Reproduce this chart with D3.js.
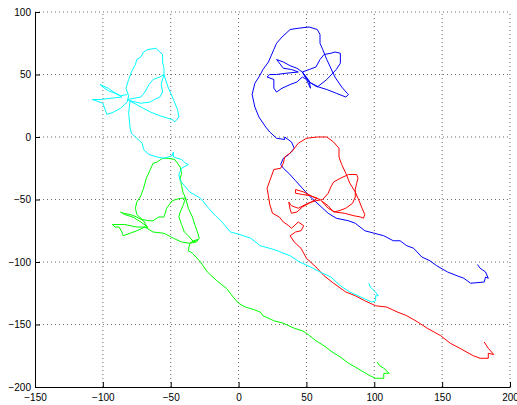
<!DOCTYPE html>
<html>
<head>
<meta charset="utf-8">
<script src="https://cdn.jsdelivr.net/npm/d3@7"></script>
<style>
body{margin:0;background:#fff;}
svg text{font-family:"Liberation Sans",Arial,Helvetica,sans-serif;font-size:10px;fill:#000;}
</style>
</head>
<body>
<script>
const width = 517;
const height = 405;
const margin = {"left":35,"bottom":18,"right":7,"top":12}

const xTicks = [-150,-100,-50,0,50,100,150,200];
const yTicks = [-200,-150,-100,-50,0,50,100];

// tracks, [x, y] in axis units
const blueTrack = [[47,52],[43,55],[38,57],[33,60],[28,62],[33,55],[39,54],[44,52],[35,51],[28,50],[23,50],[21,48],[26,46],[26,39],[28,36],[32,39],[38,42],[43,44],[47,48],[50,46],[53,39],[52,45],[47,52],
[52,54],[57,56],[60,62],[63,66],[68,67],[71,68],[75,67],[75,59],[72,54],[65,46],[58,40],[52,44],[49,48],[47,52],
[52,44],[59,40],[65,38],[72,35],[79,32],[81,34],[80,35],[76,40],[71,48],[65,62],[62,70],[60,75],[60,82],[58,86],[52,88],[44,87],[38,86],[32,80],[28,75],[26,70],[22,60],[18,54],[15,48],[12,43],[10,34],[12,24],[15,16],[20,8],[23,4],[28,-1],[34,-2],[34,0],[39,-4],[41,-9],[37,-14],[33,-17],[31,-22],[33,-25],[37,-29],[42,-35],[47,-41],[52,-47],[57,-52],[62,-57],[66,-61],[72,-65],[81,-67],[86,-69],[93,-75],[100,-77],[107,-79],[114,-83],[119,-83],[124,-87],[129,-89],[135,-96],[141,-99],[146,-103],[154,-108],[161,-111],[166,-113],[171,-117],[181,-116],[182,-112],[184,-113],[182,-108],[178,-105],[176,-102]];

const redTrack = [[60,-50],[55,-48],[48,-44],[42,-42],[42,-45],[47,-46],[53,-47],[58,-49],
[52,-53],[47,-56],[43,-60],[39,-61],[38,-58],[37,-52],[39,-55],[44,-57],[51,-53],[57,-51],[62,-50],
[66,-45],[68,-40],[70,-36],[75,-33],[81,-30],[87,-30],[88,-33],[87,-37],[86,-42],[86,-48],[84,-53],[79,-57],[74,-59],[70,-60],[66,-55],[61,-51],
[66,-57],[71,-60],[78,-61],[85,-63],[90,-64],[92,-65],[93,-62],
[91,-57],[88,-49],[86,-44],[82,-37],[79,-29],[76,-22],[74,-16],[74,-9],[70,-4],[65,0],[58,0],[50,-1],[44,-5],[39,-12],[34,-16],[33,-21],[31,-25],[26,-26],[23,-35],[21,-41],[22,-47],[23,-54],[25,-61],[30,-64],[33,-68],[37,-71],[39,-73],[44,-68],[48,-71],[46,-75],[42,-76],[38,-79],[41,-84],[46,-89],[50,-97],[57,-104],[63,-111],[70,-117],[79,-124],[86,-127],[93,-131],[101,-135],[109,-136],[117,-140],[124,-143],[132,-148],[139,-153],[149,-159],[156,-165],[163,-169],[173,-175],[178,-177],[184,-177],[184,-173],[188,-174],[184,-169],[181,-164]];

const greenTrack = [[-67,-73],[-70,-67],[-75,-64],[-80,-62],[-85,-61],[-87,-60],[-84,-62],[-78,-64],[-72,-68],[-67,-72],[-75,-72],[-84,-70],[-93,-70],[-91,-72],[-88,-72],[-86,-76],[-85,-79],[-80,-77],[-75,-75],[-69,-72],[-63,-76],[-55,-77],[-48,-81],[-42,-84],[-36,-85],[-31,-84],[-29,-81],
[-30,-77],[-32,-71],[-34,-64],[-37,-57],[-39,-49],[-41,-44],[-42,-39],[-43,-33],[-42,-29],[-43,-24],[-47,-18],[-52,-17],[-56,-17],[-60,-20],[-63,-21],[-65,-26],[-68,-33],[-70,-41],[-72,-47],[-75,-52],[-76,-57],[-75,-62],[-71,-66],[-66,-67],[-63,-67],[-59,-64],[-55,-64],[-53,-57],[-49,-51],[-43,-49],[-39,-49],[-41,-55],[-43,-60],[-44,-64],[-42,-70],[-40,-76],[-37,-79],[-33,-84],[-30,-82],[-33,-83],[-36,-85],
[-37,-91],[-34,-93],[-28,-100],[-23,-108],[-16,-115],[-9,-121],[-4,-128],[0,-133],[5,-136],[11,-138],[16,-140],[18,-143],[26,-147],[33,-149],[41,-153],[47,-155],[50,-157],[57,-163],[63,-167],[69,-172],[75,-176],[81,-181],[86,-184],[92,-188],[97,-191],[101,-193],[107,-193],[107,-189],[111,-189],[107,-185],[104,-183],[102,-180]];

const cyanTrack = [[-82,34],[-87,33],[-92,36],[-96,39],[-102,42],[-100,40],[-96,37],[-91,35],[-86,32],
[-94,31],[-102,30],[-108,30],[-105,29],[-100,27],[-97,18],[-92,20],[-87,23],[-82,28],
[-81,33],[-83,39],[-81,46],[-79,52],[-76,58],[-75,62],[-72,64],[-70,68],[-67,70],[-61,71],[-58,68],[-56,66],[-56,60],[-55,55],[-55,50],
[-52,40],[-48,30],[-45,22],[-44,16],[-47,12],[-49,14],
[-58,17],[-65,20],[-72,24],[-77,27],[-82,30],
[-72,32],[-69,36],[-66,42],[-63,46],[-58,48],[-55,50],
[-57,42],[-56,36],[-58,32],[-62,30],[-65,28],[-72,27],[-80,29],
[-81,19],[-80,8],[-79,3],[-75,-1],[-71,-5],[-70,-10],[-66,-14],[-60,-16],[-55,-17],[-49,-15],[-48,-12],[-48,-16],[-42,-18],[-39,-21],[-37,-22],[-42,-25],[-44,-30],[-43,-35],[-39,-40],[-36,-44],[-28,-49],[-22,-57],[-17,-63],[-13,-67],[-6,-76],[1,-78],[9,-81],[16,-87],[26,-90],[38,-95],[45,-100],[53,-104],[60,-108],[68,-112],[75,-119],[82,-124],[90,-128],[98,-132],[101,-131],[101,-127],[103,-127],[100,-123],[97,-120],[96,-117]];

const tracks = [
  {color:"#0000ff", points:blueTrack},
  {color:"#ff0000", points:redTrack},
  {color:"#00ff00", points:greenTrack},
  {color:"#00ffff", points:cyanTrack}
];

const svg = d3.select("body").append("svg").attr("width",width).attr("height",height);

const xScale = d3.scaleLinear().domain([-150,200]).range([margin.left,width-margin.right]);
const yScale = d3.scaleLinear().domain([-200,100]).range([height-margin.bottom,margin.top]);

// dotted grid
const grid = svg.append("g").attr("stroke","#444").attr("stroke-width",0.8).attr("stroke-dasharray","1,3");
grid.selectAll(".gx").data(xTicks.slice(1)).enter().append("line")
  .attr("x1",d=>xScale(d)).attr("x2",d=>xScale(d))
  .attr("y1",yScale(-200)).attr("y2",yScale(100));
grid.selectAll(".gy").data(yTicks.slice(1)).enter().append("line")
  .attr("x1",xScale(-150)).attr("x2",xScale(200))
  .attr("y1",d=>yScale(d)).attr("y2",d=>yScale(d));

const line = d3.line().x(d=>xScale(d[0])).y(d=>yScale(d[1]));

svg.append("g").selectAll("path").data(tracks).enter().append("path")
  .attr("d",d=>line(d.points))
  .attr("fill","none")
  .attr("stroke",d=>d.color)
  .attr("stroke-width",1)
  .attr("stroke-linejoin","round");

const xAxis = d3.axisBottom(xScale).tickValues(xTicks).tickSizeInner(-5).tickSizeOuter(0).tickPadding(7);
const yAxis = d3.axisLeft(yScale).tickValues(yTicks).tickSizeInner(-5).tickSizeOuter(0).tickPadding(4);

svg.append("g").attr("transform",`translate(0,${height-margin.bottom})`).call(xAxis)
  .call(g=>g.selectAll("text").attr("font-size",null));
svg.append("g").attr("transform",`translate(${margin.left},0)`).call(yAxis)
  .call(g=>g.selectAll("text").attr("font-size",null));
svg.selectAll(".domain").attr("stroke","#000");
svg.selectAll(".tick line").attr("stroke","#000");
</script>
</body>
</html>
